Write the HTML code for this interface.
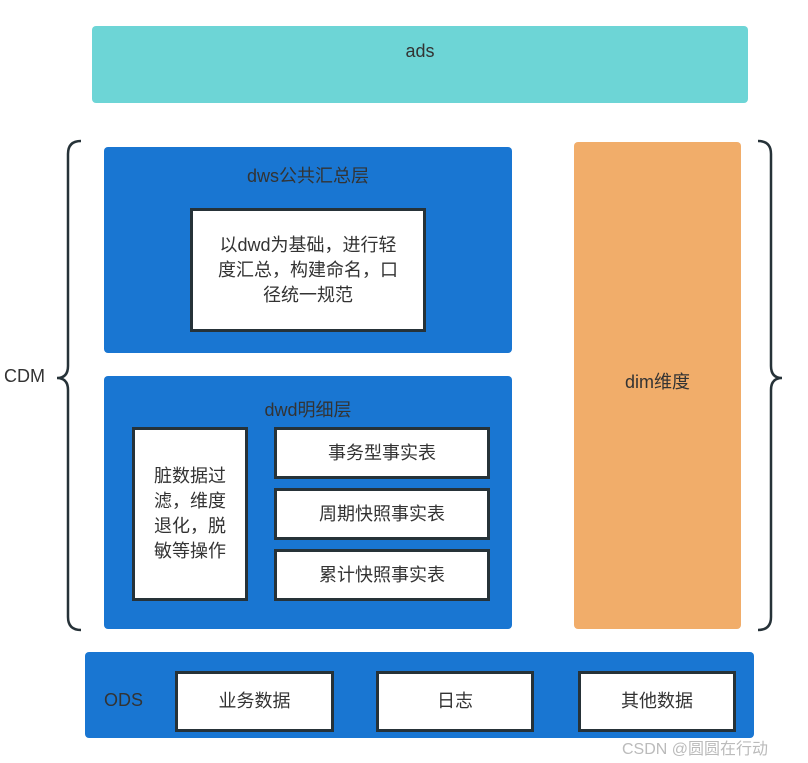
<!DOCTYPE html>
<html><head><meta charset="utf-8"><style>
body{margin:0;width:808px;height:763px;background:#fff;position:relative;overflow:hidden;font-family:"Liberation Sans","Noto Sans CJK SC",sans-serif;color:#333}
.a{position:absolute;box-sizing:border-box}
.blue{background:#1976d2;border-radius:4px}
.w{background:#fff;border:3px solid #263238;display:flex;align-items:center;justify-content:center;text-align:center;font-size:18px;color:#333;line-height:25px}
.t{position:absolute;font-size:18px;color:#333;text-align:center}
</style></head><body>
<div class="a" style="left:92px;top:26px;width:656px;height:77px;background:#6dd5d6;border-radius:4px"></div>
<div class="t" style="left:92px;top:41px;width:656px">ads</div>

<div class="a blue" style="left:104px;top:147px;width:408px;height:206px"></div>
<div class="t" style="left:104px;top:162px;width:408px">dws公共汇总层</div>
<div class="a w" style="left:190px;top:208px;width:236px;height:124px">以dwd为基础，进行轻<br>度汇总，构建命名，口<br>径统一规范</div>

<div class="a blue" style="left:104px;top:376px;width:408px;height:253px"></div>
<div class="t" style="left:104px;top:396px;width:408px">dwd明细层</div>
<div class="a w" style="left:132px;top:427px;width:116px;height:174px">脏数据过<br>滤，维度<br>退化，脱<br>敏等操作</div>
<div class="a w" style="left:274px;top:427px;width:216px;height:52px">事务型事实表</div>
<div class="a w" style="left:274px;top:488px;width:216px;height:52px">周期快照事实表</div>
<div class="a w" style="left:274px;top:549px;width:216px;height:52px">累计快照事实表</div>

<div class="a" style="left:574px;top:142px;width:167px;height:487px;background:#f1ad6a;border-radius:4px"></div>
<div class="t" style="left:574px;top:368px;width:167px">dim维度</div>

<div class="a blue" style="left:85px;top:652px;width:669px;height:86px"></div>
<div class="t" style="left:104px;top:690px">ODS</div>
<div class="a w" style="left:175px;top:671px;width:159px;height:61px">业务数据</div>
<div class="a w" style="left:376px;top:671px;width:158px;height:61px">日志</div>
<div class="a w" style="left:578px;top:671px;width:158px;height:61px">其他数据</div>

<div class="t" style="left:4px;top:366px">CDM</div>
<svg class="a" style="left:0;top:0" width="808" height="763">
<path d="M81 141 Q68 141 68 154 L68 366 Q68 378 57 378 Q68 378 68 390 L68 617 Q68 630 81 630" fill="none" stroke="#263238" stroke-width="2.5"/>
<path d="M758 141 Q771 141 771 154 L771 366 Q771 378 782 378 Q771 378 771 390 L771 617 Q771 630 758 630" fill="none" stroke="#263238" stroke-width="2.5"/>
</svg>
<div class="t" style="left:622px;top:735px;font-size:16px;color:#bbb">CSDN @圆圆在行动</div>
</body></html>
